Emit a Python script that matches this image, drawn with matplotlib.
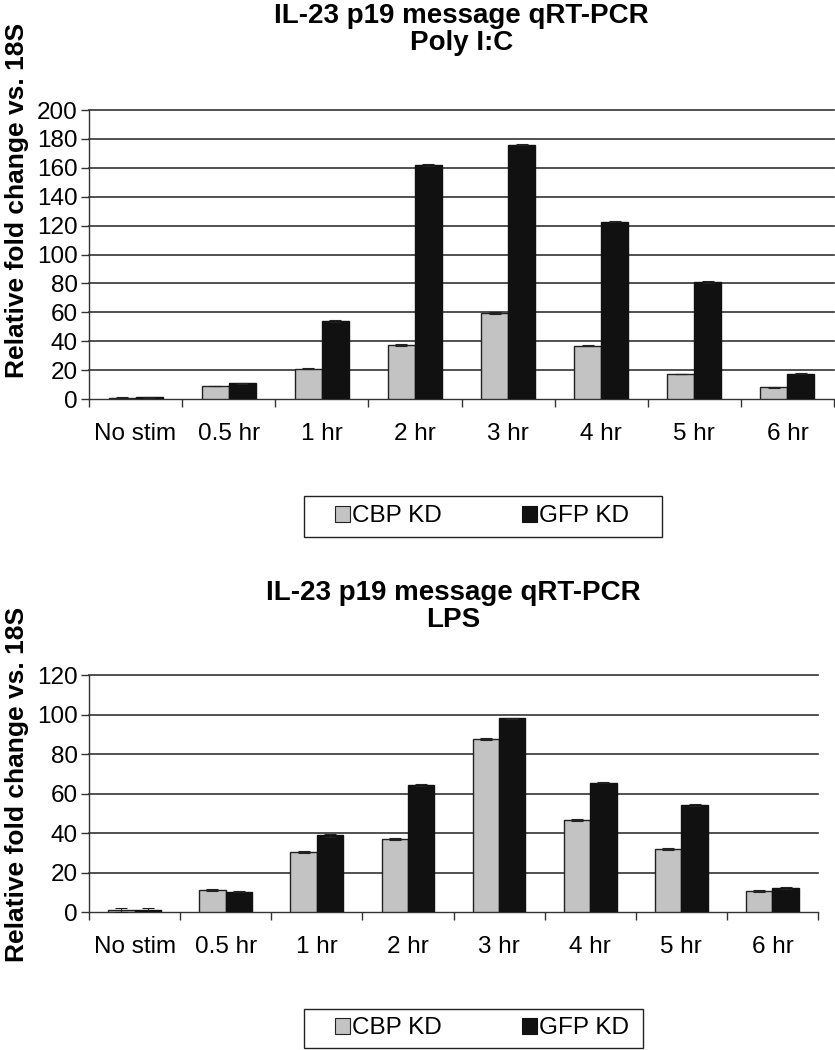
import matplotlib
matplotlib.use("Agg")
import matplotlib.pyplot as plt
import numpy as np
from matplotlib.patches import Patch, Rectangle

plt.rcParams['font.family'] = ['Liberation Sans', 'DejaVu Sans']

categories = ["No stim", "0.5 hr", "1 hr", "2 hr", "3 hr", "4 hr", "5 hr", "6 hr"]
series_names = ["CBP KD", "GFP KD"]

polyic_cbp = [1.0, 9.0, 21.0, 37.5, 59.5, 36.8, 17.3, 8.1]
polyic_gfp = [1.2, 11.0, 54.0, 162.0, 176.0, 122.8, 81.0, 17.5]
polyic_cbp_err = [0.5, 0.3, 0.4, 0.5, 0.5, 0.4, 0.3, 0.4]
polyic_gfp_err = [0.5, 0.3, 0.4, 0.5, 0.5, 0.4, 0.4, 0.4]

lps_cbp = [1.0, 11.3, 30.5, 37.1, 87.6, 46.7, 32.0, 10.8]
lps_gfp = [1.0, 10.4, 38.9, 64.4, 98.2, 65.5, 54.1, 12.3]
lps_cbp_err = [1.0, 0.4, 0.5, 0.4, 0.3, 0.3, 0.3, 0.3]
lps_gfp_err = [1.2, 0.3, 0.6, 0.3, 0.3, 0.3, 0.5, 0.3]

polyic_yticks = list(range(0, 201, 20))
lps_yticks = list(range(0, 121, 20))

W, H = 835, 1050
fig = plt.figure(figsize=(W / 100, H / 100), dpi=100)

c_cbp = "#c3c3c3"
c_gfp = "#111111"
TICK_FS = 17.5


def draw(ax, cbp, gfp, ecbp, egfp, yticks, title, title_y):
    n = len(categories)
    x = np.arange(n)
    bw = 0.29
    ax.bar(x - bw / 2, cbp, bw, color=c_cbp, edgecolor="#222222", linewidth=1.0, zorder=3,
           yerr=ecbp, error_kw=dict(ecolor="#222222", elinewidth=0.8, capsize=4, capthick=0.8))
    ax.bar(x + bw / 2, gfp, bw, color=c_gfp, edgecolor="#111111", linewidth=1.0, zorder=3,
           yerr=egfp, error_kw=dict(ecolor="#222222", elinewidth=0.8, capsize=4, capthick=0.8))
    ax.set_xlim(-0.5, n - 0.5)
    ax.set_ylim(yticks[0], yticks[-1])
    ax.set_yticks(yticks)
    ax.set_yticklabels([str(t) for t in yticks], fontsize=TICK_FS)
    ax.set_xticks(x)
    ax.set_xticklabels(categories, fontsize=TICK_FS)
    ax.set_xticks(np.arange(n + 1) - 0.5, minor=True)
    ax.tick_params(axis='x', which='major', length=0, pad=17)
    ax.tick_params(axis='x', which='minor', length=6, width=1.0, direction='out', color="#333333")
    ax.tick_params(axis='y', which='major', length=6, width=1.0, direction='out', color="#333333", pad=2)
    for yv in yticks[1:]:
        ax.axhline(yv, color="#333333", linewidth=1.2, zorder=1, clip_on=False)
    for s in ["top", "right"]:
        ax.spines[s].set_visible(False)
    for s in ["left", "bottom"]:
        ax.spines[s].set_color("#333333")
        ax.spines[s].set_linewidth(1.0)
    ax.set_ylabel("Relative fold change vs. 18S", fontsize=19, fontweight="bold")
    ax.set_title(title, fontsize=20, fontweight="bold", pad=0, linespacing=1.05,
                 y=title_y, va="bottom")


top_px, bot_px = 110, 399
ax1 = fig.add_axes([89 / W, 1 - bot_px / H, (834 - 89) / W, (bot_px - top_px) / H])
draw(ax1, polyic_cbp, polyic_gfp, polyic_cbp_err, polyic_gfp_err, polyic_yticks,
     "IL-23 p19 message qRT-PCR\nPoly I:C", 1 + (top_px - 56) / (bot_px - top_px))
ax1.yaxis.set_label_coords((29 - 89) / (834 - 89), (bot_px - 200) / (bot_px - top_px))

top2, bot2 = 675, 912.3
ax2 = fig.add_axes([89 / W, 1 - bot2 / H, (818 - 89) / W, (bot2 - top2) / H])
draw(ax2, lps_cbp, lps_gfp, lps_cbp_err, lps_gfp_err, lps_yticks,
     "IL-23 p19 message qRT-PCR\nLPS", 1 + (top2 - 633) / (bot2 - top2))
ax2.yaxis.set_label_coords((29 - 89) / (818 - 89), (bot2 - 784) / (bot2 - top2))

handles = [Patch(facecolor=c_cbp, edgecolor="#222222", linewidth=0.8),
           Patch(facecolor=c_gfp, edgecolor="#111111", linewidth=0.8)]

for (x0, x1, y0, y1) in [(304, 662, 496, 537), (304, 643, 1009, 1048)]:
    leg = fig.legend(handles, series_names, loc="center left",
                     bbox_to_anchor=(335 / W, 1 - (y0 + y1) / 2 / H),
                     ncol=2, fontsize=17.5, frameon=False,
                     handlelength=0.62, handleheight=0.62, handletextpad=0.08,
                     columnspacing=3.3, borderpad=0.0, borderaxespad=0)
    fig.patches.append(Rectangle((x0 / W, 1 - y1 / H), (x1 - x0) / W, (y1 - y0) / H,
                                 transform=fig.transFigure, fill=False,
                                 edgecolor="#222222", linewidth=1.0))

fig.savefig("out.png", dpi=100)
